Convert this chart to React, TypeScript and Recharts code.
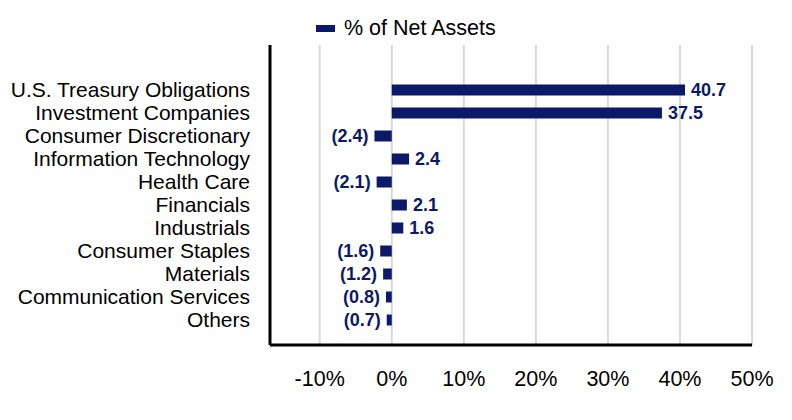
import React from 'react';
import { BarChart, Bar, XAxis, YAxis, CartesianGrid, LabelList } from 'recharts';

const categories = [
  'U.S. Treasury Obligations',
  'Investment Companies',
  'Consumer Discretionary',
  'Information Technology',
  'Health Care',
  'Financials',
  'Industrials',
  'Consumer Staples',
  'Materials',
  'Communication Services',
  'Others',
];

const netAssets = [40.7, 37.5, -2.4, 2.4, -2.1, 2.1, 1.6, -1.6, -1.2, -0.8, -0.7];

const xTicks = [-10, 0, 10, 20, 30, 40, 50];

const NAVY = '#0b1a68';
const FONT = '"Liberation Sans", Arial, sans-serif';

const data = categories.map((name, i) => ({ name, value: netAssets[i] }));

const formatValue = (v: number) => (v < 0 ? `(${Math.abs(v).toFixed(1)})` : v.toFixed(1));

// value label sits at the outer end of each bar
const BarLabel = (props: any) => {
  const { x, y, width, height, value } = props;
  const neg = value < 0;
  const left = Math.min(x, x + width);
  const right = Math.max(x, x + width);
  return (
    <text
      x={neg ? left - 6 : right + 6}
      y={y + height / 2}
      dy="0.36em"
      textAnchor={neg ? 'end' : 'start'}
      fill={NAVY}
      fontFamily={FONT}
      fontSize={18}
      fontWeight="bold"
    >
      {formatValue(value)}
    </text>
  );
};

const App: React.FC = () => {
  return (
    <div style={{ position: 'absolute', left: 0, top: 0, width: 792, height: 420, background: '#fff' }}>
      {/* legend drawn as a plain overlay so it does not shift the plot area */}
      <div
        style={{
          position: 'absolute',
          left: 316,
          top: 16,
          display: 'flex',
          alignItems: 'center',
          fontFamily: FONT,
          fontSize: 21.5,
          color: '#000',
          lineHeight: '24px',
        }}
      >
        <span style={{ display: 'inline-block', width: 19, height: 7, background: NAVY, marginRight: 9 }} />
        <span>% of Net Assets</span>
      </div>
      <BarChart
        width={792}
        height={420}
        data={data}
        layout="vertical"
        margin={{ top: 45, right: 40, bottom: 35, left: 0 }}
      >
        <CartesianGrid horizontal={false} stroke="#d9d9d9" strokeWidth={2} />
        <XAxis
          type="number"
          domain={[-16.9, 50]}
          ticks={xTicks}
          allowDataOverflow
          tickFormatter={(v: number) => `${v}%`}
          axisLine={{ stroke: '#000', strokeWidth: 3 }}
          tickLine={false}
          tickSize={0}
          tickMargin={26}
          height={40}
          tick={{ fill: '#000', fontSize: 21.5, fontFamily: FONT }}
        />
        <YAxis
          type="category"
          dataKey="name"
          width={270}
          interval={0}
          padding={{ top: 33.5, bottom: 13.5 }}
          axisLine={{ stroke: '#000', strokeWidth: 3 }}
          tickLine={false}
          tickSize={0}
          tickMargin={20}
          tick={{ fill: '#000', fontSize: 21, fontFamily: FONT }}
        />
        <Bar dataKey="value" name="% of Net Assets" fill={NAVY} barSize={11} isAnimationActive={false}>
          <LabelList dataKey="value" content={<BarLabel />} />
        </Bar>
      </BarChart>
    </div>
  );
};

export default App;
